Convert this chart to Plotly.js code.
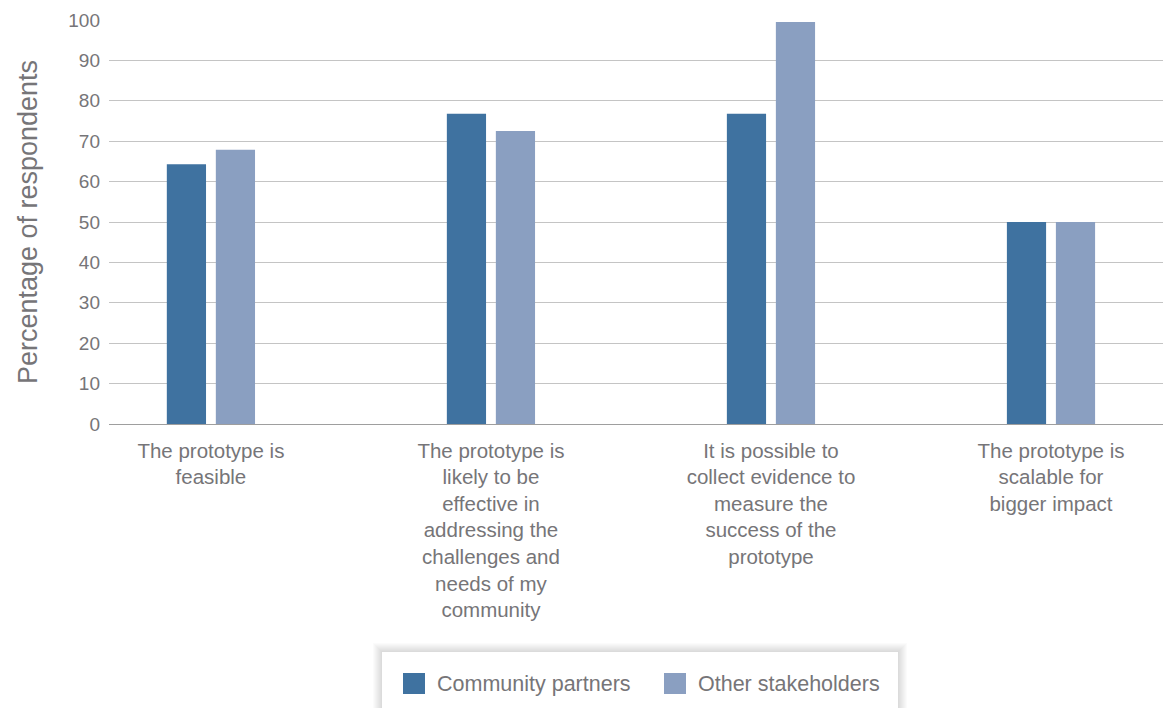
<!DOCTYPE html>
<html>
<head>
<meta charset="utf-8">
<script src="https://cdn.plot.ly/plotly-3.0.1.min.js"></script>
<style>html,body{margin:0;padding:0;background:#fff;}#chart{width:1163px;height:708px;}</style>
</head>
<body>
<div id="chart"></div>
<script>
const categories = [
  "The prototype is<br>feasible",
  "The prototype is<br>likely to be<br>effective in<br>addressing the<br>challenges and<br>needs of my<br>community",
  "It is possible to<br>collect evidence to<br>measure the<br>success of the<br>prototype",
  "The prototype is<br>scalable for<br>bigger impact"
];
const seriesNames = ["Community partners", "Other stakeholders"];
const communityPartners = [64.3, 76.8, 76.8, 50];
const otherStakeholders = [67.9, 72.5, 99.5, 50];
const yTicks = [0,10,20,30,40,50,60,70,80,90,100];
const colors = ["#3f72a0", "#8a9fc1"];

const W = 1163, H = 708;
const M = {l:109, r:0, t:20, b:284};
const pw = W - M.l - M.r, ph = H - M.t - M.b;
const px = x => (x - M.l) / pw;
const py = y => (H - M.b - y) / ph;

const textColor = "#767578";
const font = "Liberation Sans, Arial, sans-serif";

const traces = [communityPartners, otherStakeholders].map((vals, i) => ({
  type: "bar",
  x: [0,1,2,3],
  y: vals,
  name: seriesNames[i],
  marker: {color: colors[i]},
  showlegend: false,
  hoverinfo: "y+name"
}));

const shapes = [];
const annotations = [];
// legend box with soft shadow
const box = {x0:382, x1:898, y0:652, y1:730};
for (let k = 9; k >= 1; k--) {
  shapes.push({type:"rect", xref:"paper", yref:"paper", layer:"below",
    x0:px(box.x0-k), x1:px(box.x1+k), y0:py(box.y1+k), y1:py(box.y0-k),
    line:{width:0}, fillcolor:"rgba(0,0,0,0.014)"});
}
shapes.push({type:"rect", xref:"paper", yref:"paper", layer:"above",
  x0:px(box.x0), x1:px(box.x1), y0:py(box.y1), y1:py(box.y0),
  line:{width:0}, fillcolor:"#ffffff"});
const legendItems = [{sq:403, tx:435}, {sq:664, tx:696}];
legendItems.forEach((it, i) => {
  shapes.push({type:"rect", xref:"paper", yref:"paper", layer:"above",
    x0:px(it.sq), x1:px(it.sq+22), y0:py(694), y1:py(673),
    line:{width:0}, fillcolor:colors[i]});
  annotations.push({xref:"paper", yref:"paper", x:px(it.tx), y:py(684),
    xanchor:"left", yanchor:"middle", showarrow:false, text:seriesNames[i],
    font:{family:font, size:21.5, color:textColor}});
});

const layout = {
  width: W, height: H,
  margin: {l:M.l, r:M.r, t:M.t, b:M.b, pad:0},
  paper_bgcolor: "#ffffff",
  plot_bgcolor: "#ffffff",
  barmode: "group",
  bargap: 0.65,
  bargroupgap: 0.2,
  showlegend: false,
  font: {family: font, color: textColor},
  xaxis: {
    tickmode: "array",
    tickvals: [0,1,2,3],
    ticktext: categories,
    range: [-0.364, 3.4],
    showgrid: false,
    zeroline: false,
    showline: false,
    ticks: "",
    ticklabelstandoff: 12,
    tickfont: {family: font, size: 20.5, color: textColor},
    fixedrange: true
  },
  yaxis: {
    range: [0, 100],
    tickmode: "array",
    tickvals: yTicks,
    ticktext: yTicks.map(String),
    showgrid: true,
    gridcolor: "#c4c4c4",
    gridwidth: 1,
    zeroline: true,
    zerolinecolor: "#9e9e9e",
    zerolinewidth: 1,
    showline: false,
    ticks: "",
    ticklabelstandoff: 8,
    tickfont: {family: font, size: 19, color: textColor},
    title: {text: "Percentage of respondents", font: {family: font, size: 27, color: textColor}, standoff: 22},
    fixedrange: true
  },
  shapes: shapes,
  annotations: annotations
};

Plotly.newPlot("chart", traces, layout, {displayModeBar: false, staticPlot: true});
</script>
</body>
</html>
